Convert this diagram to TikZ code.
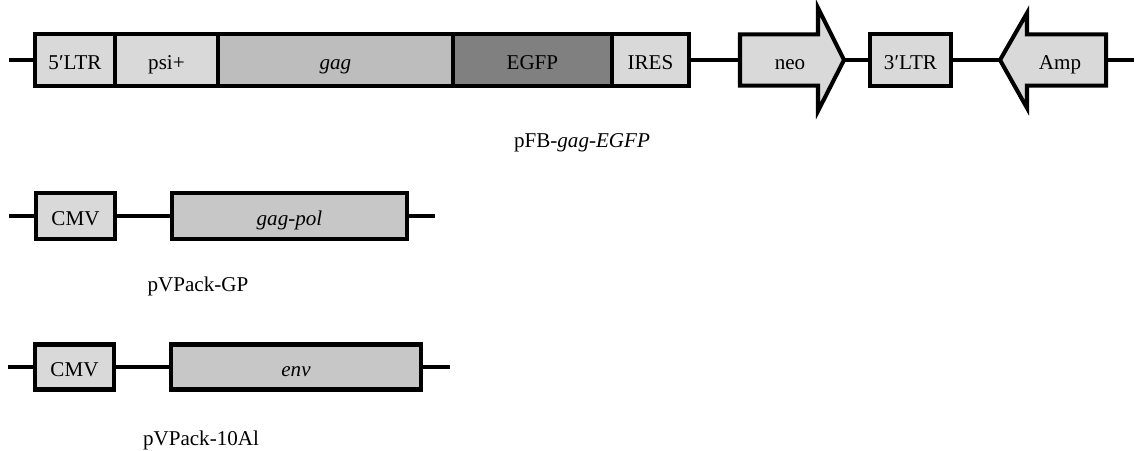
\documentclass[tikz,border=0pt]{standalone}
\usepackage{fontspec}
\setmainfont{Liberation Serif}
\usetikzlibrary{positioning}
\definecolor{lightgene}{gray}{0.85}
\definecolor{midgene}{gray}{0.74}
\definecolor{darkgene}{gray}{0.50}
\definecolor{packgene}{gray}{0.78}
\tikzset{
  backbone/.style={line width=2.3pt},
  gene/.style={draw, line width=2.3pt, inner sep=0pt, outer sep=0pt,
    minimum height=1.03cm, text height=10.8pt, text depth=0pt,
    font=\fontsize{12}{14}\selectfont},
  packbox/.style={gene, minimum height=0.92cm},
  plasmid/.style={anchor=base, inner sep=0pt, font=\fontsize{12}{14}\selectfont}
}
\begin{document}
\begin{tikzpicture}[x=0.02cm,y=-0.02cm]
  \useasboundingbox (0,0) rectangle (1141,450);
  % pFB-gag-EGFP
  \node[gene,fill=lightgene,minimum width=1.6cm,anchor=west] (ltr5) at (35,60) {5′LTR};
  \node[gene,fill=lightgene,minimum width=2.06cm,right=0pt of ltr5] (psi) {psi+};
  \node[gene,fill=midgene,minimum width=4.7cm,right=0pt of psi] (gag) {\itshape gag};
  \node[gene,fill=darkgene,minimum width=3.18cm,right=0pt of gag] (egfp) {EGFP};
  \node[gene,fill=lightgene,minimum width=1.54cm,right=0pt of egfp] (ires) {IRES};
  \coordinate (neo-tail) at (740,60);
  \coordinate (neo-tip) at (844,60);
  \draw[gene,fill=lightgene] (740,34.3)--(818,34.3)--(818,8)--(neo-tip)--(818,111)--(818,85.7)--(740,85.7)--cycle;
  \node[gene,draw=none] (neo) at (790,60) {neo};
  \node[gene,fill=lightgene,minimum width=1.62cm,anchor=west] (ltr3) at (870,60) {3′LTR};
  \coordinate (amp-tip) at (1000,60);
  \coordinate (amp-tail) at (1106,60);
  \draw[gene,fill=lightgene] (1106,34.3)--(1027,34.3)--(1027,13)--(amp-tip)--(1027,108)--(1027,85.7)--(1106,85.7)--cycle;
  \node[gene,draw=none] (amp) at (1060,60) {Amp};
  \coordinate (fb-start) at (9,60);
  \coordinate (fb-end) at (1134,60);
  \draw[backbone] (fb-start)--(ltr5.west);
  \draw[backbone] (ires.east)--(neo-tail);
  \draw[backbone] (neo-tip)--(ltr3.west);
  \draw[backbone] (ltr3.east)--(amp-tip);
  \draw[backbone] (amp-tail)--(fb-end);
  \node[plasmid] (pfb) at (582,147) {pFB-\textit{gag}-\textit{EGFP}};
  % pVPack-GP
  \node[packbox,fill=lightgene,minimum width=1.58cm,anchor=west] (cmvgp) at (36,216) {CMV};
  \node[packbox,fill=packgene,minimum width=4.7cm,anchor=west] (gagpol) at (172,216) {\itshape gag-pol};
  \coordinate (gp-start) at (9,216);
  \coordinate (gp-end) at (435,216);
  \draw[backbone] (gp-start)--(cmvgp.west);
  \draw[backbone] (cmvgp.east)--(gagpol.west);
  \draw[backbone] (gagpol.east)--(gp-end);
  \node[plasmid] (vpgp) at (198,291) {pVPack-GP};
  % pVPack-10Al
  \node[packbox,fill=lightgene,minimum width=1.58cm,minimum height=0.9cm,anchor=west] (cmval) at (35,367) {CMV};
  \node[packbox,fill=packgene,minimum width=5cm,minimum height=0.9cm,anchor=west] (env) at (171,367) {\itshape env};
  \coordinate (al-start) at (8,367);
  \coordinate (al-end) at (450,367);
  \draw[backbone] (al-start)--(cmval.west);
  \draw[backbone] (cmval.east)--(env.west);
  \draw[backbone] (env.east)--(al-end);
  \node[plasmid] (vpal) at (201,445) {pVPack-10Al};
\end{tikzpicture}
\end{document}
